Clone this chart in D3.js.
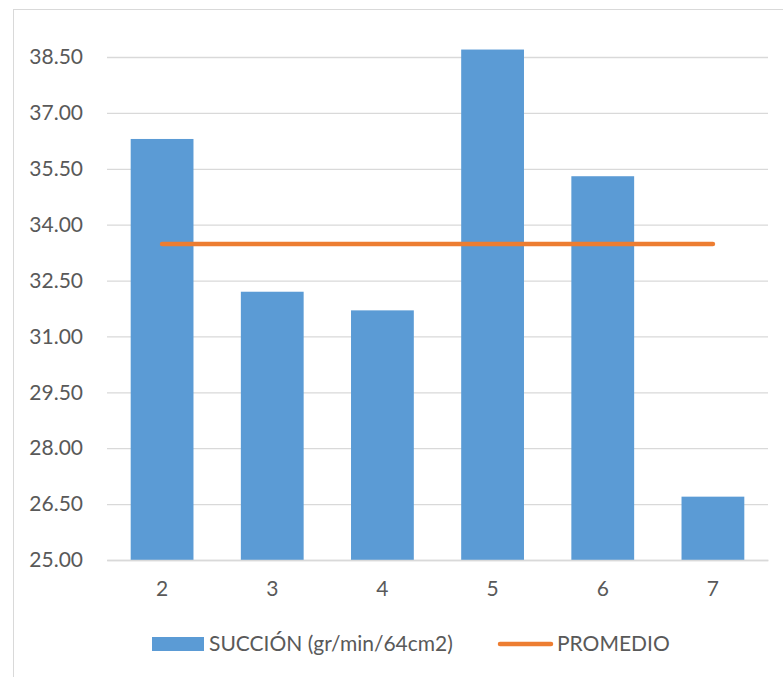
<!DOCTYPE html>
<html>
<head>
<meta charset="utf-8">
<script src="https://cdn.jsdelivr.net/npm/d3@7"></script>
<style>
  body { margin: 0; background: #fff; }
  text { font-family: Lato, "Open Sans", sans-serif; }
</style>
</head>
<body>
<div id="chart"></div>
<script>
  // values
  var categories = ["2", "3", "4", "5", "6", "7"];
  var succion = [36.3, 32.2, 31.7, 38.7, 35.3, 26.7];
  var promedio = [33.48, 33.48, 33.48, 33.48, 33.48, 33.48];
  var yTicks = [25.0, 26.5, 28.0, 29.5, 31.0, 32.5, 34.0, 35.5, 37.0, 38.5];

  var W = 783, H = 677;
  var margin = { top: 57, right: 15, bottom: 117, left: 107 },
    width = 768 - margin.left,
    height = 560 - margin.top;

  var svg = d3.select("#chart").append("svg")
    .attr("width", W)
    .attr("height", H);

  // chart frame
  svg.append("rect")
    .attr("x", 13.5).attr("y", 9.5)
    .attr("width", W).attr("height", H)
    .attr("fill", "none")
    .attr("stroke", "#d9d9d9");

  var g = svg.append("g")
    .attr("transform", "translate(" + margin.left + "," + margin.top + ")");

  var x = d3.scaleBand()
    .domain(categories)
    .range([0, width])
    .paddingInner(0.43)
    .paddingOuter(0.215);

  var y = d3.scaleLinear()
    .domain([25, 38.5])
    .range([height, 0]);

  var yAxis = d3.axisLeft(y)
    .tickValues(yTicks)
    .tickSize(-width)
    .tickFormat(d3.format(".2f"));

  g.append("g")
    .attr("class", "y axis")
    .call(yAxis)
    .call(function (s) {
      s.select(".domain").remove();
      s.selectAll("line").attr("stroke", "#d9d9d9").attr("stroke-width", 1.3);
      s.selectAll("text")
        .attr("x", -24)
        .attr("fill", "#595959")
        .attr("font-size", "21px");
    });

  g.selectAll("rect.bar")
    .data(succion)
    .enter().append("rect")
    .attr("class", "bar")
    .attr("fill", "#5b9bd5")
    .attr("x", function (d, i) { return x(categories[i]); })
    .attr("width", x.bandwidth())
    .attr("y", function (d) { return y(d); })
    .attr("height", function (d) { return height - y(d); });

  var xAxis = d3.axisBottom(x).tickSize(0);

  g.append("g")
    .attr("class", "x axis")
    .attr("transform", "translate(0," + height + ")")
    .call(xAxis)
    .call(function (s) {
      s.select(".domain").attr("stroke", "#d9d9d9").attr("stroke-width", 1.3);
      s.selectAll("text")
        .attr("dy", "1.55em")
        .attr("fill", "#595959")
        .attr("font-size", "21px");
    });

  var line = d3.line()
    .x(function (d, i) { return x(categories[i]) + x.bandwidth() / 2; })
    .y(function (d) { return y(d); });

  g.append("path")
    .datum(promedio)
    .attr("d", line)
    .attr("fill", "none")
    .attr("stroke", "#ed7d31")
    .attr("stroke-width", 4.5)
    .attr("stroke-linecap", "round");

  // legend
  var legend = svg.append("g").attr("transform", "translate(0,644)");
  legend.append("rect")
    .attr("x", 152).attr("y", -7)
    .attr("width", 52).attr("height", 14)
    .attr("fill", "#5b9bd5");
  legend.append("text")
    .attr("x", 209).attr("y", 0)
    .attr("dy", "0.35em")
    .attr("fill", "#595959")
    .attr("font-size", "21px")
    .text("SUCCIÓN (gr/min/64cm2)");
  legend.append("line")
    .attr("x1", 500).attr("x2", 551)
    .attr("y1", 0).attr("y2", 0)
    .attr("stroke", "#ed7d31")
    .attr("stroke-width", 4.5)
    .attr("stroke-linecap", "round");
  legend.append("text")
    .attr("x", 557).attr("y", 0)
    .attr("dy", "0.35em")
    .attr("fill", "#595959")
    .attr("font-size", "21px")
    .text("PROMEDIO");
</script>
</body>
</html>
